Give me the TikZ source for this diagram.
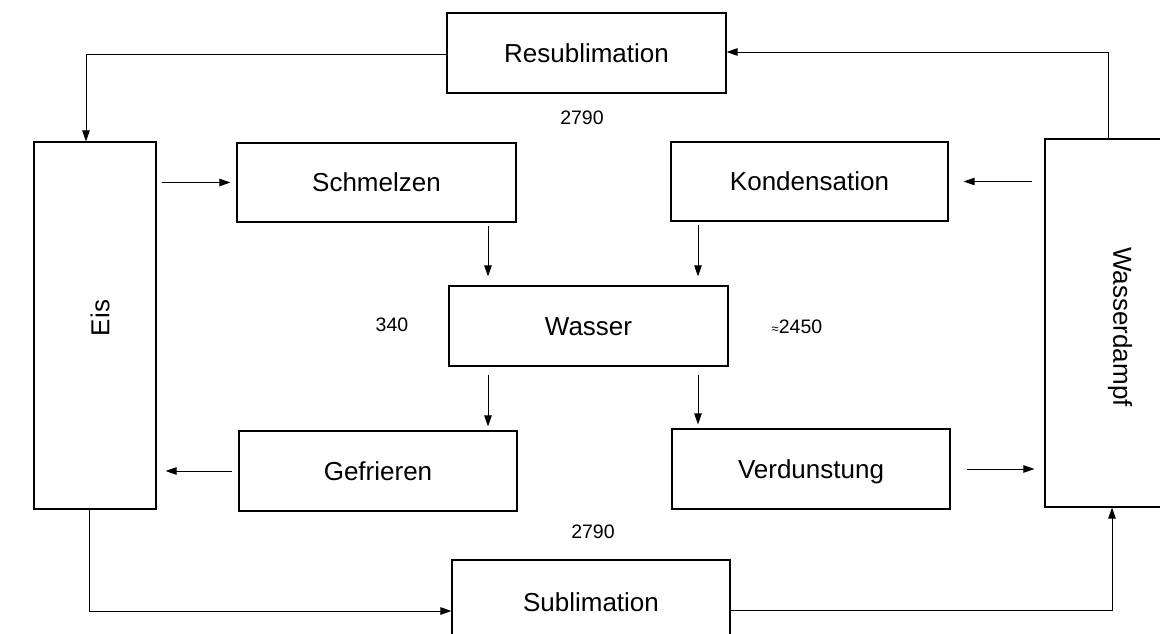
\documentclass[tikz,border=0pt]{standalone}
\usepackage{fontspec}
\setmainfont{Liberation Sans}
\usetikzlibrary{arrows.meta}
\begin{document}
\begin{tikzpicture}[x=1pt,y=-1pt,
  box/.style={draw, line width=1.2pt, inner sep=0pt, text height=18.6pt, text depth=0pt, font=\fontsize{26}{30}\selectfont},
  lbl/.style={inner sep=0pt, font=\fontsize{26}{30}\selectfont},
  num/.style={inner sep=0pt, font=\fontsize{19.5}{22}\selectfont},
  arr/.style={line width=0.9pt, -{Triangle[length=11pt,width=7.5pt]}}]
\clip (0,0) rectangle (1160,634);
\fill[white] (0,0) rectangle (1160,634);

% boxes
\node[box, minimum width=279pt, minimum height=80pt] (resub) at (586.5,53) {Resublimation};
\node[box, minimum width=122pt, minimum height=367pt] (eis) at (95,325.5) {};
\node[lbl, rotate=90] (eistext) at (100,318) {Eis};
\node[box, minimum width=279pt, minimum height=79pt] (schm) at (376.5,182.5) {Schmelzen};
\node[box, minimum width=277pt, minimum height=79pt] (kond) at (809.5,181.5) {Kondensation};
\node[box, minimum width=279pt, minimum height=80pt] (wasser) at (588.5,326) {Wasser};
\node[box, minimum width=278pt, minimum height=80pt] (gefr) at (378,471) {Gefrieren};
\node[box, minimum width=278pt, minimum height=80pt] (verd) at (811,469) {Verdunstung};
\node[box, minimum width=150pt, minimum height=368pt] (wd) at (1120,323) {};
\node[lbl, rotate=-90] (wdtext) at (1120,327) {Wasserdampf};
\node[box, minimum width=278pt, minimum height=84pt] (subl) at (591,602) {Sublimation};

% numbers
\node[num] (n1) at (582,118) {2790};
\node[num] (n2) at (392,325) {340};
\node[num] (n3) at (797,327) {{\fontsize{13}{13}\selectfont ≈}2450};
\node[num] (n4) at (593,532) {2790};

% bend points
\coordinate (c1) at (86,54);
\coordinate (c2) at (1108,52);
\coordinate (c3) at (488,0);
\coordinate (c4) at (698,0);
\coordinate (c5) at (89,611);
\coordinate (c6) at (1112,610);

% connectors
\draw[arr] (resub.west |- c1) -- (c1) -- (c1 |- eis.north);
\draw[arr] (wd.north -| c2) -- (c2) -- (c2 -| resub.east);
\draw[arr, shorten <=5pt, shorten >=6pt] (eis.east |- schm.west) -- (schm.west);
\draw[arr, shorten <=12pt, shorten >=15pt] (wd.west |- kond.east) -- (kond.east);
\draw[arr, shorten <=3pt, shorten >=9pt] (schm.south -| c3) -- (c3 |- wasser.north);
\draw[arr, shorten <=3pt, shorten >=9pt] (kond.south -| c4) -- (c4 |- wasser.north);
\draw[arr, shorten <=8pt, shorten >=4pt] (wasser.south -| c3) -- (c3 |- gefr.north);
\draw[arr, shorten <=8pt, shorten >=4pt] (wasser.south -| c4) -- (c4 |- verd.north);
\draw[arr, shorten <=6pt, shorten >=9pt] (gefr.west) -- (gefr.west -| eis.east);
\draw[arr, shorten <=16pt, shorten >=10pt] (verd.east) -- (verd.east -| wd.west);
\draw[arr] (eis.south -| c5) -- (c5) -- (c5 -| subl.west);
\draw[arr] (subl.east |- c6) -- (c6) -- (c6 |- wd.south);
\end{tikzpicture}
\end{document}
